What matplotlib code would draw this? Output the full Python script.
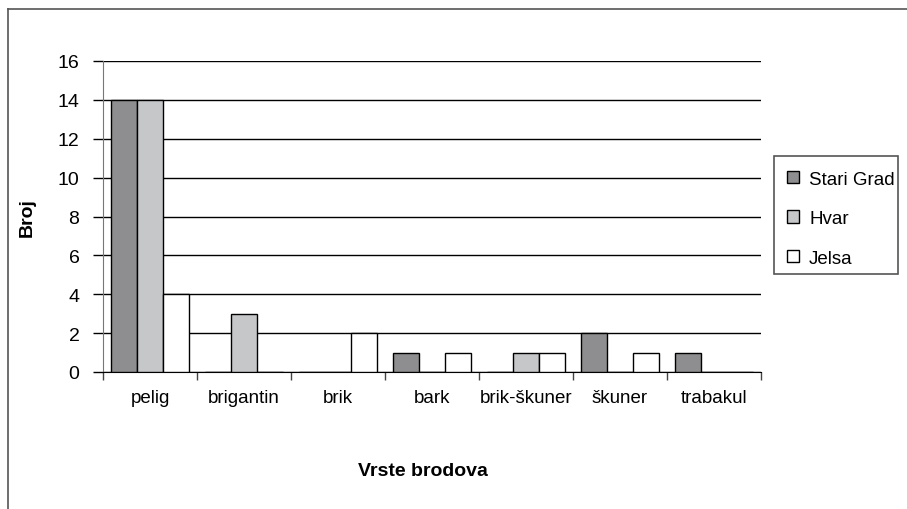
import matplotlib
matplotlib.use("Agg")
import matplotlib.pyplot as plt
import numpy as np
from matplotlib.lines import Line2D
from matplotlib.patches import Rectangle

plt.rcParams['font.family'] = ['Liberation Sans', 'DejaVu Sans']

categories = ["pelig", "brigantin", "brik", "bark", "brik-škuner", "škuner", "trabakul"]
series_names = ["Stari Grad", "Hvar", "Jelsa"]
stari_grad = [14, 0, 0, 1, 0, 2, 1]
hvar = [14, 3, 0, 0, 1, 0, 0]
jelsa = [4, 0, 2, 1, 1, 1, 0]
colors = ["#8e8e90", "#c6c7c9", "#ffffff"]
yticks = [0, 2, 4, 6, 8, 10, 12, 14, 16]

fig = plt.figure(figsize=(9.07, 5.10), dpi=100)
ax = fig.add_axes([103/907, 1-373/510, (761-103)/907, (373-62)/510])

x = np.arange(len(categories)) + 0.5
w = 0.277
for i, (vals, name, c) in enumerate(zip([stari_grad, hvar, jelsa], series_names, colors)):
    ax.bar(x + (i-1)*w, vals, width=w, color=c, edgecolor="black", linewidth=1.0,
           label=name, zorder=3)

ax.set_xlim(0, len(categories))
ax.set_ylim(0, 16)
ax.set_yticks(yticks)
ax.yaxis.grid(True, color="black", linewidth=1.0, zorder=1)
ax.set_axisbelow(True)
ax.tick_params(axis='y', length=7, width=1, color="black", labelsize=14, pad=10)
ax.set_xticks(np.arange(0, len(categories)+1))
ax.set_xticklabels([])
ax.set_xticks(x, minor=True)
ax.set_xticklabels(categories, minor=True)
ax.tick_params(axis='x', which='major', length=6, width=1, color="#444444", direction='out')
ax.tick_params(axis='x', which='minor', length=0, labelsize=13.5, pad=12)
for s in ["top", "right"]:
    ax.spines[s].set_visible(False)
ax.spines["left"].set_color("#777777")
ax.spines["bottom"].set_color("black")

ax.set_ylabel("Broj", fontsize=14, fontweight="bold", labelpad=16)
fig.text(423/907, 1-471/510, "Vrste brodova", fontsize=14, fontweight="bold",
         ha="center", va="center")

leg = fig.legend(loc="upper left", bbox_to_anchor=(781/907, 1-166/510), bbox_transform=fig.transFigure,
                 fontsize=13.5, frameon=False,
                 handlelength=0.65, handleheight=0.65, labelspacing=1.2, borderpad=0.3,
                 handletextpad=0.55, borderaxespad=0)

# legend frame
fig.add_artist(Rectangle((774/907, 1-275/510), (898-774)/907, (275-157)/510,
                         transform=fig.transFigure, fill=False, edgecolor="#555555", lw=1.2))

# outer border (top and left visible)
fig.add_artist(Line2D([8/907, 8/907], [0, 1-10/510], transform=fig.transFigure, color="#555555", lw=1.2))
fig.add_artist(Line2D([8/907, 1], [1-10/510, 1-10/510], transform=fig.transFigure, color="#555555", lw=1.2))

fig.savefig("out.png", dpi=100)
